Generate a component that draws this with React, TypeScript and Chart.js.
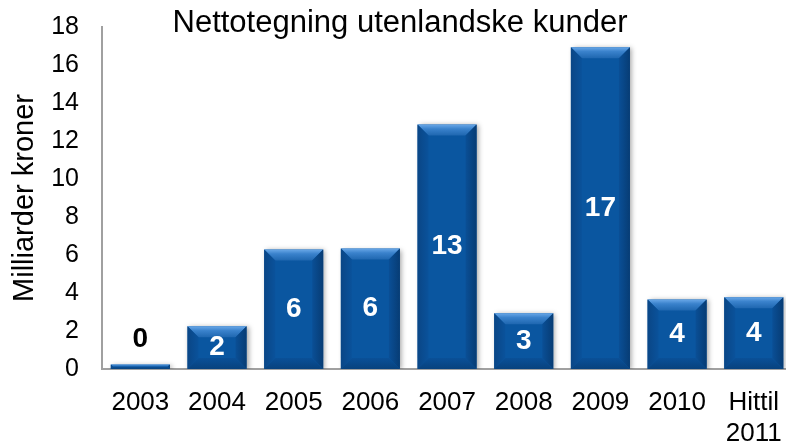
import React, { useEffect, useRef } from "react";
import { Chart, registerables } from "chart.js";

Chart.register(...registerables);

const categories: (string | string[])[] = ["2003", "2004", "2005", "2006", "2007", "2008", "2009", "2010", ["Hittil", "2011"]];
const values = [0.24, 2.25, 6.29, 6.34, 12.87, 2.94, 16.94, 3.66, 3.78];
const valueLabels = ["0", "2", "6", "6", "13", "3", "17", "4", "4"];
const chartTitle = "Nettotegning utenlandske kunder";
const yAxisTitle = "Milliarder kroner";
const yMin = 0;
const yMax = 18;
const yStep = 2;

const FONT = "'Liberation Sans', Arial, Helvetica, sans-serif";
const BAR_MAIN = "#0a56a0";

const bevelPlugin = {
  id: "bevel",
  beforeDatasetsDraw(chart: any) {
    const ctx = chart.ctx;
    ctx.save();
    ctx.shadowColor = "rgba(0,0,0,0.35)";
    ctx.shadowBlur = 5;
    ctx.shadowOffsetX = 2;
    ctx.shadowOffsetY = 1;
  },
  afterDatasetsDraw(chart: any) {
    const ctx = chart.ctx;
    ctx.restore();
    const meta = chart.getDatasetMeta(0);
    meta.data.forEach((el: any) => {
      const { x, y, base, width } = el.getProps(["x", "y", "base", "width"], true);
      const left = x - width / 2;
      const right = x + width / 2;
      const top = Math.min(y, base);
      const bottom = Math.max(y, base);
      const h = bottom - top;
      const b = Math.min(11, h / 2, width / 2);
      if (b <= 0) return;
      const poly = (pts: number[][], fill: any) => {
        ctx.beginPath();
        ctx.moveTo(pts[0][0], pts[0][1]);
        for (let i = 1; i < pts.length; i++) ctx.lineTo(pts[i][0], pts[i][1]);
        ctx.closePath();
        ctx.fillStyle = fill;
        ctx.fill();
      };
      const gTop = ctx.createLinearGradient(0, top, 0, top + b);
      gTop.addColorStop(0, "#6aa8e8");
      gTop.addColorStop(0.4, "#3a82cc");
      gTop.addColorStop(1, "#1f67b0");
      poly([[left, top], [right, top], [right - b, top + b], [left + b, top + b]], gTop);
      const gL = ctx.createLinearGradient(left, 0, left + b, 0);
      gL.addColorStop(0, "#0a4686");
      gL.addColorStop(1, "#0a529b");
      poly([[left, top], [left + b, top + b], [left + b, bottom - b], [left, bottom]], gL);
      const gR = ctx.createLinearGradient(right - b, 0, right, 0);
      gR.addColorStop(0, "#0a4f96");
      gR.addColorStop(1, "#073c74");
      poly([[right, top], [right - b, top + b], [right - b, bottom - b], [right, bottom]], gR);
      const gB = ctx.createLinearGradient(0, bottom - b, 0, bottom);
      gB.addColorStop(0, "#0a5098");
      gB.addColorStop(1, "#08427e");
      poly([[left, bottom], [left + b, bottom - b], [right - b, bottom - b], [right, bottom]], gB);
    });
  },
};

const labelPlugin = {
  id: "valueLabels",
  afterDatasetsDraw(chart: any) {
    const ctx = chart.ctx;
    const meta = chart.getDatasetMeta(0);
    ctx.save();
    ctx.font = `bold 28px ${FONT}`;
    ctx.textAlign = "center";
    ctx.textBaseline = "middle";
    meta.data.forEach((el: any, i: number) => {
      const { x, y, base } = el.getProps(["x", "y", "base"], true);
      const h = Math.abs(base - y);
      if (h < 30) {
        ctx.fillStyle = "#000";
        ctx.fillText(valueLabels[i], x, y - 25);
      } else {
        ctx.fillStyle = "#fff";
        ctx.fillText(valueLabels[i], x, (y + base) / 2);
      }
    });
    ctx.restore();
  },
};

const titlePlugin = {
  id: "customTitle",
  afterDraw(chart: any) {
    const ctx = chart.ctx;
    ctx.save();
    ctx.font = `31px ${FONT}`;
    ctx.fillStyle = "#000";
    ctx.textAlign = "center";
    ctx.textBaseline = "middle";
    ctx.fillText(chartTitle, chart.width / 2, 23);
    ctx.restore();
  },
};

export default function App() {
  const ref = useRef<HTMLCanvasElement | null>(null);
  useEffect(() => {
    if (!ref.current) return;
    const chart = new Chart(ref.current, {
      type: "bar",
      data: {
        labels: categories as any,
        datasets: [
          {
            data: values,
            backgroundColor: BAR_MAIN,
            borderWidth: 0,
            categoryPercentage: 1,
            barPercentage: 0.77,
          },
        ],
      },
      options: {
        responsive: false,
        animation: false,
        devicePixelRatio: 1,
        layout: { padding: { top: 27, right: 5, left: 0, bottom: 0 } },
        plugins: {
          legend: { display: false },
          title: { display: false },
          tooltip: { enabled: false },
        },
        scales: {
          x: {
            grid: { display: false, drawTicks: false },
            border: { display: true, color: "#a0a0a0", width: 2 },
            ticks: {
              color: "#000",
              font: { family: FONT, size: 26 },
              padding: 18,
              maxRotation: 0,
              autoSkip: false,
            },
            afterFit(scale: any) {
              scale.height = 76;
            },
          },
          y: {
            min: yMin,
            max: yMax,
            grid: { display: false, drawTicks: false },
            border: { display: true, color: "#a0a0a0", width: 2 },
            ticks: {
              stepSize: yStep,
              color: "#000",
              font: { family: FONT, size: 25 },
              padding: 23,
            },
            title: {
              display: true,
              text: yAxisTitle,
              color: "#000",
              font: { family: FONT, size: 29 },
              padding: { top: 8, bottom: 0 },
            },
            afterFit(scale: any) {
              scale.width = 102;
              scale.paddingTop = 0;
              scale.paddingBottom = 0;
            },
          },
        },
      },
      plugins: [bevelPlugin, labelPlugin, titlePlugin],
    });
    return () => chart.destroy();
  }, []);
  return (
    <div style={{ position: "fixed", left: 0, top: 0, width: 786, height: 445, overflow: "hidden", background: "#fff" }}>
      <canvas ref={ref} width={800} height={445} style={{ display: "block" }} />
    </div>
  );
}
